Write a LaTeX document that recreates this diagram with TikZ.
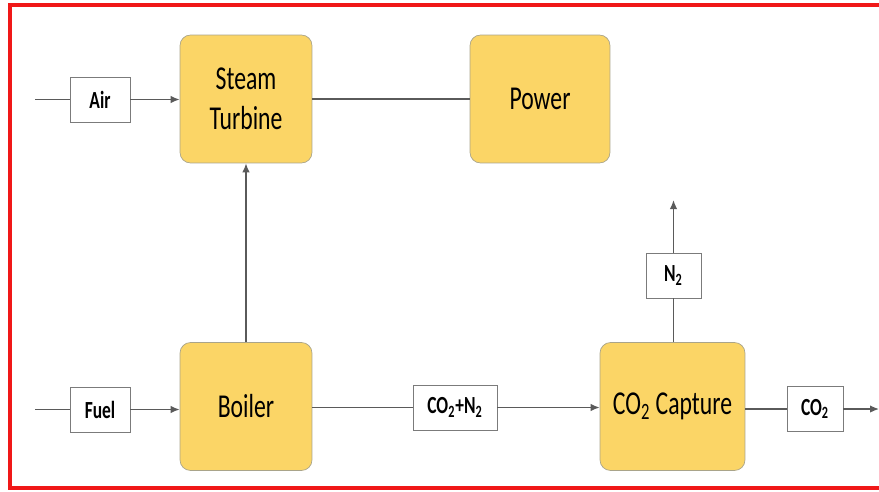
\documentclass[tikz,border=0pt]{standalone}
\usepackage{fontspec}
\setmainfont{Carlito}[FakeStretch=0.71]
\usetikzlibrary{arrows.meta,positioning}
\definecolor{blockyellow}{HTML}{FBD566}
\definecolor{blockedge}{HTML}{A9A48A}
\definecolor{flowgray}{HTML}{5A5A5A}
\definecolor{frame}{HTML}{F01818}
\tikzset{
  block/.style={rounded corners=6pt, draw=blockedge, fill=blockyellow, align=center, minimum width=2.64cm, minimum height=2.56cm, inner sep=2pt, font=\fontsize{19}{23}\selectfont},
  tag/.style={draw=flowgray!80, fill=white, align=center, minimum width=1.2cm, minimum height=0.9cm, inner sep=2pt, font=\bfseries\fontsize{14}{16}\selectfont},
  flow/.style={draw=flowgray, line width=0.8pt},
  arrow/.style={flow, -{Latex[length=1.8mm,width=1.5mm]}}
}

\begin{document}
\begin{tikzpicture}[x=0.02cm, y=-0.02cm]
  \useasboundingbox (0,0) rectangle (879,491);
  \draw[frame, line width=1.8pt] (10,5) rectangle (890,488);

  % process blocks
  \node[block] (turbine) at (246,99) {Steam\\Turbine};
  \node[block, minimum width=2.8cm] (power) at (540,99) {Power};
  \node[block] (boiler) at (246,406.5) {Boiler};
  \node[block, minimum width=2.9cm] (capture) at (672.5,406.5) {CO\textsubscript{2} Capture};

  % stream labels
  \node[tag] (air) at (100,99.5) {Air};
  \node[tag] (fuel) at (100,409.5) {Fuel};
  \node[tag, minimum width=1.68cm] (flue) at (455,407.5) {CO\textsubscript{2}+N\textsubscript{2}};
  \node[tag, minimum width=1.1cm] (nitrogen) at (673.5,275.5) {N\textsubscript{2}};
  \node[tag, minimum width=1.12cm] (carbon) at (815,409) {CO\textsubscript{2}};

  % loose ends
  \coordinate (airin) at (35,99.5);
  \coordinate (fuelin) at (35,409.5);
  \coordinate (nout) at (673.5,200);
  \coordinate (cout) at (879,409);

  \draw[flow] (airin) -- (air);
  \draw[arrow] (air) -- (turbine.west |- air);
  \draw[flow] (turbine) -- (power);
  \draw[arrow] (boiler) -- (turbine);
  \draw[flow] (fuelin) -- (fuel);
  \draw[arrow] (fuel) -- (boiler.west |- fuel);
  \draw[flow] (boiler.east |- flue) -- (flue);
  \draw[arrow] (flue) -- (capture.west |- flue);
  \draw[flow] (capture.north -| nitrogen) -- (nitrogen);
  \draw[arrow] (nitrogen) -- (nout);
  \draw[flow] (capture.east |- carbon) -- (carbon);
  \draw[arrow] (carbon) -- (cout);
\end{tikzpicture}
\end{document}
